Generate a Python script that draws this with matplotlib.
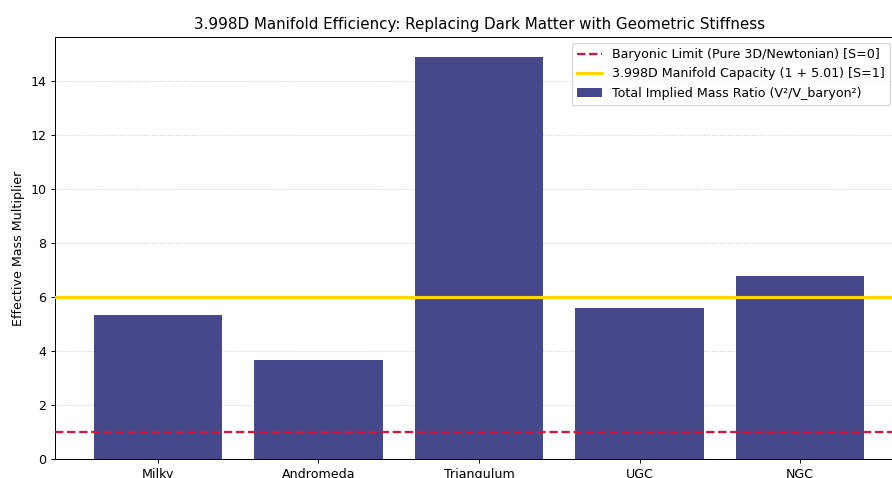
import matplotlib.pyplot as plt

# Data
galaxies = ["Milky", "Andromeda", "Triangulum", "UGC", "NGC"]
mass_ratio = [5.35, 3.67, 14.9, 5.6, 6.78]
baryonic_limit = 1.0
manifold_capacity = 1 + 5.01

dpi = 91
fig = plt.figure(figsize=(892 / dpi, 478 / dpi), dpi=dpi)
# axes runs past the right edge, like the cropped reference
ax = fig.add_axes([55 / 892, 19 / 478, 848 / 892, 422 / 478])

ax.bar(galaxies, mass_ratio, color="#45488a", width=0.8,
       label="Total Implied Mass Ratio (V\u00b2/V_baryon\u00b2)", zorder=2)
ax.axhline(baryonic_limit, color="crimson", linestyle="--", linewidth=1.8,
           label="Baryonic Limit (Pure 3D/Newtonian) [S=0]", zorder=3)
ax.axhline(manifold_capacity, color="gold", linewidth=2.5,
           label="3.998D Manifold Capacity (1 + 5.01) [S=1]", zorder=3)

ax.set_title("3.998D Manifold Efficiency: Replacing Dark Matter with Geometric Stiffness", fontsize=12)
ax.set_ylabel("Effective Mass Multiplier")
ax.grid(axis="y", linestyle=":", alpha=0.6, zorder=0)
ax.legend(loc="upper right", bbox_to_anchor=(890 / 892, 1 - 43 / 478),
          bbox_transform=fig.transFigure, borderaxespad=0)

fig.savefig("out.png", dpi=dpi)
